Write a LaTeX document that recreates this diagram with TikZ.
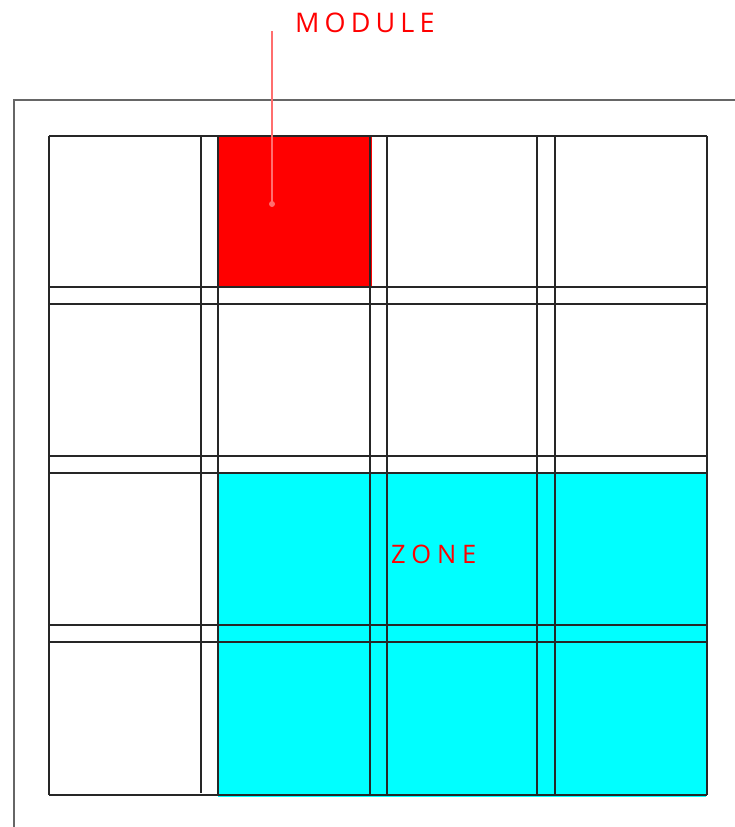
\documentclass[tikz,border=0pt]{standalone}
\usepackage{fontspec}
\newfontfamily\labfont[LetterSpace=23]{Open Sans}
\newfontfamily\modfont[LetterSpace=19]{Open Sans}
\usepackage{tikz}
\usetikzlibrary{positioning}
\definecolor{zcyan}{RGB}{0,255,255}
\definecolor{mred}{RGB}{255,0,0}
\definecolor{leadred}{RGB}{255,110,110}
\tikzset{
  plan/.style={x=1pt, y=-1pt},
  p frame/.style={draw=black!60, line width=2pt},
  p line/.style={draw=black!85, line width=1.5pt},
  p module/.style={fill=mred, draw=none},
  p zone/.style={fill=zcyan, draw=none},
  p lead/.style={draw=leadred, line width=2pt},
  p dot/.style={circle, fill=leadred, inner sep=0pt, minimum size=6pt},
  p lab/.style={text=mred, inner sep=0pt, font=\labfont\fontsize{27}{30}\selectfont},
}
\begin{document}
\begin{tikzpicture}[plan]
\useasboundingbox (0,0) rectangle (735,827);
% ---- outer frame ----
\draw[p frame] (14,827) -- (14,100) -- (735,100);
% ---- fills ----
\fill[p zone] (218,473) rectangle (706,797);
\fill[p module] (218,136) rectangle (372,287);
% ---- grid ----
\foreach \gy in {136,287,304,456,473,625,642,795}
  \draw[p line] (49,\gy) -- (707,\gy);
\foreach \gx in {49,218,370,387,537,555,707}
  \draw[p line] (\gx,136) -- (\gx,795);
\draw[p line] (201,136) -- (201,793);
% ---- labels ----
\node[p dot] (mdot) at (272,204) {};
\coordinate (mlead) at (272,31);
\draw[p lead] (mlead) -- (mdot.center);
\node[p lab, anchor=base west, font=\modfont\fontsize{27}{30}\selectfont] (mlab) at (295,32.5) {MODULE};
\node[p lab, anchor=base west, font=\labfont\fontsize{25.5}{28}\selectfont] (zlab) at (391,563) {ZONE};
\end{tikzpicture}
\end{document}
